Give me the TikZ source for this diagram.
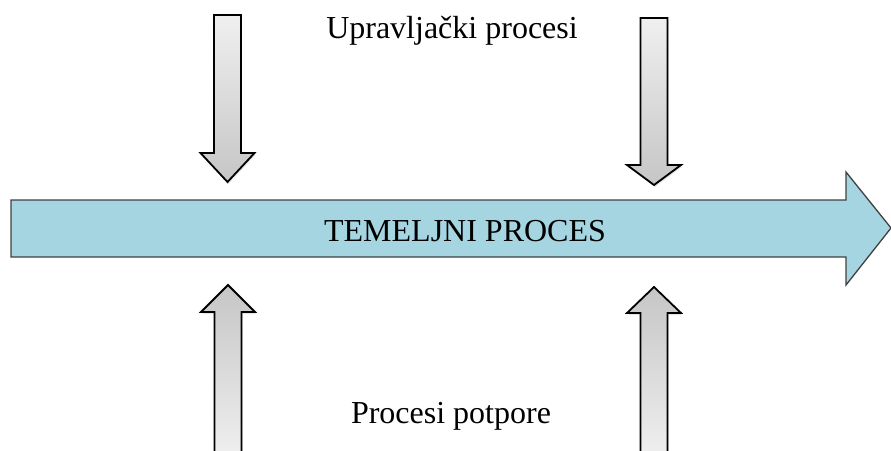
\documentclass[tikz,border=0pt]{standalone}
\usepackage{fontspec}
\setmainfont{Liberation Serif}
\usetikzlibrary{shadows}
\definecolor{coreblue}{HTML}{A6D5E2}

\begin{document}
\begin{tikzpicture}[x=1pt,y=-1pt,
  blockarrow/.style={draw=black,line width=1.8pt,line join=miter,
    drop shadow={opacity=0.2,shadow xshift=1pt,shadow yshift=-2pt}},
  downshade/.style={top color=gray!12,bottom color=gray!45},
  upshade/.style={top color=gray!45,bottom color=gray!12},
  corearrow/.style={draw=black!75,line width=1.3pt,fill=coreblue},
  label/.style={font=\fontsize{32}{36}\selectfont,inner sep=0pt}]
  \useasboundingbox (0,0) rectangle (891,450);
  % core process
  \draw[corearrow] (11,200) -- (846,200) -- (846,172) -- (891,228)
    -- (846,285) -- (846,257) -- (11,257) -- cycle;
  \node[label] (core) at (465,231) {TEMELJNI PROCES};
  % management processes
  \foreach \cx/\top/\base/\tip in {227.5/15/153/182, 654/18/165/185}
    \draw[blockarrow,downshade] (\cx-13.5,\top) -- (\cx+13.5,\top)
      -- (\cx+13.5,\base) -- (\cx+27,\base) -- (\cx,\tip) -- (\cx-27,\base)
      -- (\cx-13.5,\base) -- cycle;
  \node[label] (mgmt) at (452,31) {Upravljački procesi};
  % support processes
  \foreach \cx/\tip/\base in {228/285/312, 654/287/313}
    \draw[blockarrow,upshade] (\cx,\tip) -- (\cx+27,\base) -- (\cx+13.5,\base)
      -- (\cx+13.5,458) -- (\cx-13.5,458) -- (\cx-13.5,\base)
      -- (\cx-27,\base) -- cycle;
  \node[label] (support) at (451,416) {Procesi potpore};
\end{tikzpicture}
\end{document}
